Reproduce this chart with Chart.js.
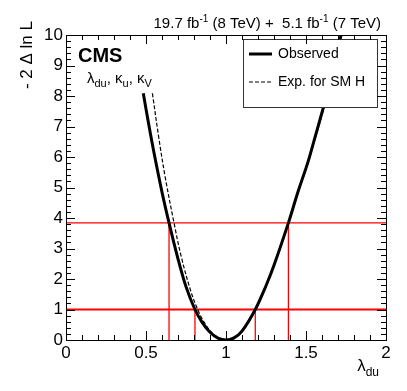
<!DOCTYPE html>
<html>
<head>
<meta charset="utf-8">
<script src="https://cdn.jsdelivr.net/npm/chart.js@4/dist/chart.umd.min.js"></script>
<style>
html,body{margin:0;padding:0;background:#fff;}
canvas{display:block;}
</style>
</head>
<body>
<canvas id="c" width="407" height="391"></canvas>
<script>
// ---- data ----
const obsX = [0.483, 0.52, 0.55, 0.60, 0.644, 0.70, 0.75, 0.806, 0.85, 0.90, 0.95, 1.0, 1.05, 1.10, 1.183, 1.25, 1.30, 1.39, 1.45, 1.51, 1.55, 1.61, 1.65, 1.70, 1.75];
const obsY = [8.09, 6.98, 6.14, 4.85, 3.84, 2.66, 1.75, 1.0, 0.585, 0.255, 0.063, 0.0, 0.07, 0.29, 1.0, 1.78, 2.45, 3.84, 4.86, 5.8, 6.53, 7.65, 8.45, 9.56, 10.7];
const expX = [0.54, 0.58, 0.62, 0.675, 0.72, 0.78, 0.823, 0.85, 0.90, 0.95, 1.0, 1.05, 1.10, 1.185, 1.25, 1.30, 1.39, 1.45, 1.51, 1.55, 1.615, 1.65, 1.70, 1.75];
const expY = [8.09, 6.63, 5.34, 3.84, 2.74, 1.6, 1.0, 0.70, 0.305, 0.075, 0.0, 0.07, 0.29, 1.0, 1.76, 2.42, 3.8, 4.82, 5.75, 6.48, 7.65, 8.35, 9.45, 10.6];
const levels = [1.0, 3.84];
const cross1 = [0.806, 1.183];
const cross384 = [0.644, 1.39];
const xTickValues = [0, 0.5, 1, 1.5, 2];
const yTickValues = [0, 1, 2, 3, 4, 5, 6, 7, 8, 9, 10];
const legendLabels = ["Observed", "Exp. for SM H"];

const FONT = "'Liberation Sans', Arial, Helvetica, sans-serif";
const RED = 'rgb(255,0,0)';

function pts(xs, ys) { return xs.map((x, i) => ({x: x, y: ys[i]})); }

const datasets = [
  {data: pts(obsX, obsY), borderColor: '#000', borderWidth: 3, showLine: true, pointRadius: 0, tension: 0.35},
  {data: pts(expX, expY), borderColor: '#000', borderWidth: 1.2, borderDash: [4, 2], showLine: true, pointRadius: 0, tension: 0.35},
  {data: [{x: 0, y: levels[0]}, {x: 2, y: levels[0]}], borderColor: RED, borderWidth: 2.2, showLine: true, pointRadius: 0},
  {data: [{x: 0, y: levels[1]}, {x: 2, y: levels[1]}], borderColor: RED, borderWidth: 1.4, showLine: true, pointRadius: 0}
];
cross1.forEach(c => datasets.push({data: [{x: c, y: 0}, {x: c, y: levels[0]}], borderColor: RED, borderWidth: 1.3, showLine: true, pointRadius: 0}));
cross384.forEach(c => datasets.push({data: [{x: c, y: 0}, {x: c, y: levels[1]}], borderColor: RED, borderWidth: 1.3, showLine: true, pointRadius: 0}));

const framePlugin = {
  id: 'frame',
  afterDatasetsDraw(chart) {
    const ctx = chart.ctx, a = chart.chartArea;
    const xs = chart.scales.x, ys = chart.scales.y;
    ctx.save();
    // legend box
    const lx = 243.5, ly = 39.5, lw = 134, lh = 68;
    ctx.fillStyle = '#fff';
    ctx.fillRect(lx, ly, lw, lh);
    ctx.strokeStyle = '#333';
    ctx.lineWidth = 1;
    ctx.strokeRect(lx, ly, lw, lh);
    ctx.strokeStyle = '#000';
    ctx.lineWidth = 3;
    ctx.beginPath(); ctx.moveTo(249, 54); ctx.lineTo(272, 54); ctx.stroke();
    ctx.lineWidth = 1.2;
    ctx.setLineDash([4, 2]);
    ctx.beginPath(); ctx.moveTo(249, 82); ctx.lineTo(272, 82); ctx.stroke();
    ctx.setLineDash([]);
    ctx.fillStyle = '#000';
    ctx.font = '14px ' + FONT;
    ctx.textBaseline = 'middle';
    ctx.textAlign = 'left';
    ctx.fillText(legendLabels[0], 278, 54);
    ctx.fillText(legendLabels[1], 278, 82);

    // frame
    ctx.strokeStyle = '#000';
    ctx.lineWidth = 1;
    ctx.strokeRect(Math.round(a.left) + 0.5, Math.round(a.top) + 0.5, Math.round(a.right - a.left), Math.round(a.bottom - a.top));
    // ticks inside frame
    ctx.beginPath();
    for (let i = 0; i <= 20; i++) {
      const v = i / 10;
      const px = Math.round(xs.getPixelForValue(v)) + 0.5;
      const len = (i % 5 === 0) ? 9 : 5;
      ctx.moveTo(px, a.bottom); ctx.lineTo(px, a.bottom - len);
      ctx.moveTo(px, a.top); ctx.lineTo(px, a.top + len);
    }
    for (let i = 0; i <= 50; i++) {
      const v = i / 5;
      const py = Math.round(ys.getPixelForValue(v)) + 0.5;
      const len = (i % 5 === 0) ? 9 : 5;
      ctx.moveTo(a.left, py); ctx.lineTo(a.left + len, py);
      ctx.moveTo(a.right, py); ctx.lineTo(a.right - len, py);
    }
    ctx.stroke();

    // header text
    ctx.textBaseline = 'alphabetic';
    const big = '15px ' + FONT, small = '10px ' + FONT;
    const parts = [["19.7 fb", big, 0], ["-1", small, -6], [" (8 TeV) +  5.1 fb", big, 0], ["-1", small, -6], [" (7 TeV)", big, 0]];
    let total = 0;
    parts.forEach(p => { ctx.font = p[1]; total += ctx.measureText(p[0]).width; });
    let x = 381 - total;
    parts.forEach(p => { ctx.font = p[1]; ctx.fillText(p[0], x, 28 + p[2]); x += ctx.measureText(p[0]).width; });

    // CMS label
    ctx.font = 'bold 20px ' + FONT;
    ctx.fillText('CMS', 78, 62);
    // model label
    const m = '15px ' + FONT, ms = '11px ' + FONT;
    const mparts = [["λ", m, 0], ["du", ms, 4], [", κ", m, 0], ["u", ms, 4], [", κ", m, 0], ["V", ms, 4]];
    x = 87;
    mparts.forEach(p => { ctx.font = p[1]; ctx.fillText(p[0], x, 83 + p[2]); x += ctx.measureText(p[0]).width; });

    // x axis title
    const xt = [["λ", '17px ' + FONT, 0], ["du", '12px ' + FONT, 5]];
    total = 0;
    xt.forEach(p => { ctx.font = p[1]; total += ctx.measureText(p[0]).width; });
    x = 379 - total;
    xt.forEach(p => { ctx.font = p[1]; ctx.fillText(p[0], x, 371 + p[2]); x += ctx.measureText(p[0]).width; });

    // y axis title
    ctx.translate(32, 21);
    ctx.rotate(-Math.PI / 2);
    ctx.font = '17px ' + FONT;
    ctx.textAlign = 'right';
    ctx.fillText('- 2 Δ ln L', 0, 0);
    ctx.restore();
  }
};

new Chart(document.getElementById('c'), {
  type: 'scatter',
  data: {datasets: datasets},
  options: {
    responsive: false,
    animation: false,
    devicePixelRatio: 1,
    layout: {padding: {top: 35, right: 21, left: 0, bottom: 0}},
    plugins: {legend: {display: false}, tooltip: {enabled: false}},
    scales: {
      x: {
        type: 'linear', min: 0, max: 2,
        afterBuildTicks: s => { s.ticks = xTickValues.map(v => ({value: v})); },
        ticks: {color: '#000', font: {family: FONT, size: 17}, padding: 3, maxRotation: 0, autoSkip: false,
                callback: v => String(+Number(v).toFixed(2))},
        grid: {display: false, drawTicks: false},
        border: {display: false},
        afterFit: s => { s.height = 51; }
      },
      y: {
        type: 'linear', min: 0, max: 10,
        afterBuildTicks: s => { s.ticks = yTickValues.map(v => ({value: v})); },
        ticks: {color: '#000', font: {family: FONT, size: 17}, padding: 3, autoSkip: false,
                callback: v => String(+Number(v).toFixed(2))},
        grid: {display: false, drawTicks: false},
        border: {display: false},
        afterFit: s => { s.width = 66; }
      }
    }
  },
  plugins: [framePlugin]
});
</script>
</body>
</html>
